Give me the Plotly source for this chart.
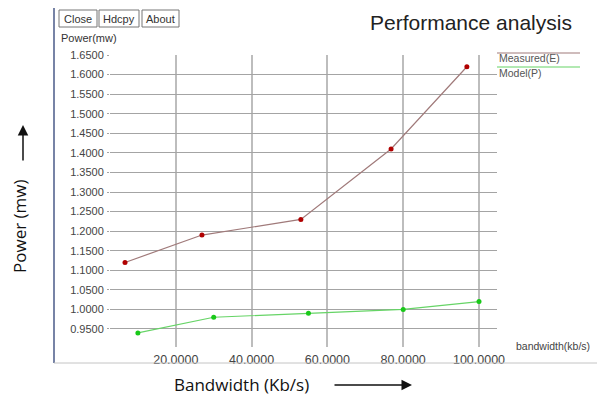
import plotly.graph_objects as go

# Measured (E) and Model (P) power vs bandwidth
measured_bw = [6.6, 26.9, 53.0, 76.8, 96.8]
measured_pw = [1.12, 1.19, 1.23, 1.41, 1.62]
model_bw = [10, 30, 55, 80, 100]
model_pw = [0.94, 0.98, 0.99, 1.00, 1.02]

y_ticks = [0.95, 1.00, 1.05, 1.10, 1.15, 1.20, 1.25, 1.30, 1.35, 1.40,
           1.45, 1.50, 1.55, 1.60, 1.65]
y_tick_labels = ["0.9500", "1.0000", "1.0500", "1.1000", "1.1500", "1.2000",
                 "1.2500", "1.3000", "1.3500", "1.4000", "1.4500", "1.5000",
                 "1.5500", "1.6000", "1.6500"]
x_ticks = [20, 40, 60, 80, 100]
x_tick_labels = ["20.0000", "40.0000", "60.0000", "80.0000", "100.0000"]

W, H = 597, 396
L, R, T, B = 110, 100, 55, 49
PW, PH = W - L - R, H - T - B


def xp(px):
    return (px - L) / PW


def yp(py):
    return (H - B - py) / PH


CHART_FONT = "Liberation Sans"
OUTER_FONT = "Open Sans"

fig = go.Figure()
fig.add_trace(go.Scatter(
    x=measured_bw, y=measured_pw, mode="lines+markers", name="Measured(E)",
    line=dict(color="#a07a7a", width=1.2),
    marker=dict(color="#b00000", size=5),
))
fig.add_trace(go.Scatter(
    x=model_bw, y=model_pw, mode="lines+markers", name="Model(P)",
    line=dict(color="#66d466", width=1.2),
    marker=dict(color="#19c919", size=5),
))

fig.update_layout(
    width=W, height=H,
    margin=dict(l=L, r=R, t=T, b=B, pad=0),
    paper_bgcolor="white", plot_bgcolor="white",
    showlegend=False,
    xaxis=dict(
        range=[2.64, 104.75], tickvals=x_ticks, ticktext=x_tick_labels,
        showgrid=True, gridcolor="#bdbdbd", gridwidth=1.5,
        zeroline=False, showline=False, ticks="", ticklabelstandoff=3,
        tickfont=dict(family=CHART_FONT, size=12.5, color="#444"),
    ),
    yaxis=dict(
        range=[0.904, 1.65], tickvals=y_ticks, ticktext=y_tick_labels,
        showgrid=True, gridcolor="#a4a4a4", gridwidth=1,
        zeroline=False, showline=False, ticks="outside", ticklen=2,
        tickcolor="#a4a4a4", ticklabelstandoff=1,
        tickfont=dict(family=CHART_FONT, size=11, color="#444"),
    ),
)

shapes = [
    # window frame
    dict(type="line", xref="paper", yref="paper", x0=xp(54), x1=xp(54),
         y0=yp(8), y1=yp(363), line=dict(color="#4a5a88", width=1.5)),
    dict(type="line", xref="paper", yref="paper", x0=xp(54), x1=xp(597),
         y0=yp(363), y1=yp(363), line=dict(color="#c4c4c4", width=1)),
    # legend swatches
    dict(type="line", xref="paper", yref="paper", x0=xp(497), x1=xp(580),
         y0=yp(53), y1=yp(53), line=dict(color="#a07a7a", width=1.2)),
    dict(type="line", xref="paper", yref="paper", x0=xp(497), x1=xp(580),
         y0=yp(67), y1=yp(67), line=dict(color="#66d466", width=1.2)),
]


def label(text, x, y, size, font=CHART_FONT, color="#333", xanchor="center",
          **kw):
    return dict(text=text, xref="paper", yref="paper", x=xp(x), y=yp(y),
                xanchor=xanchor, yanchor="middle", showarrow=False,
                font=dict(family=font, size=size, color=color), **kw)


# toolbar buttons
buttons = [("Close", 59, 97), ("Hdcpy", 99, 139), ("About", 142, 179)]
annotations = []
for name, x0, x1 in buttons:
    shapes.append(dict(type="rect", xref="paper", yref="paper",
                       x0=xp(x0), x1=xp(x1), y0=yp(27), y1=yp(10),
                       line=dict(color="#777", width=1), fillcolor="white"))
    annotations.append(label(name, (x0 + x1) / 2, 18.5, 11))

annotations += [
    label("Performance analysis", 471, 22, 21, color="#222"),
    label("Power(mw)", 59, 38, 11, xanchor="left"),
    label("Measured(E)", 497, 58, 10.5, color="#555", xanchor="left"),
    label("Model(P)", 497, 73, 10.5, color="#555", xanchor="left"),
    label("bandwidth(kb/s)", 514, 346, 10.5, color="#444", xanchor="left"),
    label("Power (mw)", 19, 227, 17, font=OUTER_FONT, color="#111",
          textangle=-90),
    label("Bandwidth (Kb/s)", 241, 384, 17, font=OUTER_FONT, color="#111"),
    # direction arrows
    dict(text="", xref="paper", yref="paper", x=xp(23), y=yp(125),
         ax=0, ay=37, showarrow=True, arrowhead=2, arrowsize=1.4,
         arrowwidth=1.5, arrowcolor="#111"),
    dict(text="", xref="paper", yref="paper", x=xp(412), y=yp(385),
         ax=-79, ay=0, showarrow=True, arrowhead=2, arrowsize=1.4,
         arrowwidth=1.5, arrowcolor="#111"),
]

fig.update_layout(shapes=shapes, annotations=annotations)
fig.write_html("out.html")
